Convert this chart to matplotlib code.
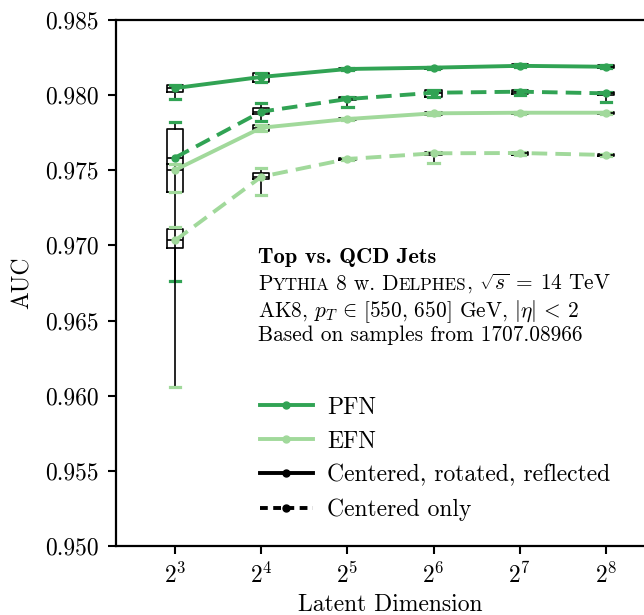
import matplotlib
matplotlib.use("Agg")
import matplotlib.pyplot as plt
from matplotlib.lines import Line2D
from matplotlib.font_manager import FontProperties

plt.rcParams['font.family'] = 'serif'
plt.rcParams['font.serif'] = ['cmr10']
plt.rcParams['mathtext.fontset'] = 'cm'
plt.rcParams['axes.unicode_minus'] = False
plt.rcParams['axes.formatter.use_mathtext'] = True

# ---------------- data ----------------
log2_dims = [3, 4, 5, 6, 7, 8]
x_ticklabels = ['$2^{3}$', '$2^{4}$', '$2^{5}$', '$2^{6}$', '$2^{7}$', '$2^{8}$']
y_ticks = [0.950, 0.955, 0.960, 0.965, 0.970, 0.975, 0.980, 0.985]

pfn_full_med = [0.98047, 0.98121, 0.98174, 0.98183, 0.98195, 0.98189]
pfn_full_q1 = [0.98019, 0.98090, 0.98165, 0.98175, 0.98185, 0.98180]
pfn_full_q3 = [0.98067, 0.98145, 0.98180, 0.98190, 0.98205, 0.98198]
pfn_full_lo = [0.97974, 0.98090, 0.98165, 0.98175, 0.98185, 0.98180]
pfn_full_hi = [0.98070, 0.98145, 0.98180, 0.98190, 0.98205, 0.98198]

pfn_cent_med = [0.97584, 0.97890, 0.97974, 0.98016, 0.98023, 0.98012]
pfn_cent_q1 = [0.97540, 0.97874, 0.97965, 0.97990, 0.98010, 0.98000]
pfn_cent_q3 = [0.97773, 0.97916, 0.97985, 0.98034, 0.98035, 0.98022]
pfn_cent_lo = [0.96765, 0.97828, 0.97923, 0.97990, 0.98000, 0.97956]
pfn_cent_hi = [0.97823, 0.97946, 0.97990, 0.98034, 0.98035, 0.98022]

efn_full_med = [0.97502, 0.97783, 0.97841, 0.97879, 0.97883, 0.97883]
efn_full_q1 = [0.97358, 0.97763, 0.97835, 0.97870, 0.97875, 0.97875]
efn_full_q3 = [0.97540, 0.97801, 0.97848, 0.97888, 0.97890, 0.97890]
efn_full_lo = [0.97358, 0.97763, 0.97835, 0.97870, 0.97875, 0.97875]
efn_full_hi = [0.97540, 0.97801, 0.97848, 0.97888, 0.97890, 0.97890]

efn_cent_med = [0.97033, 0.97457, 0.97575, 0.97613, 0.97615, 0.97602]
efn_cent_q1 = [0.96981, 0.97440, 0.97568, 0.97600, 0.97605, 0.97595]
efn_cent_q3 = [0.97107, 0.97484, 0.97582, 0.97625, 0.97625, 0.97610]
efn_cent_lo = [0.96056, 0.97335, 0.97568, 0.97546, 0.97605, 0.97595]
efn_cent_hi = [0.97125, 0.97513, 0.97582, 0.97625, 0.97625, 0.97610]

legend_labels = ['PFN', 'EFN', 'Centered, rotated, reflected', 'Centered only']

PFN_COLOR = '#31a354'
EFN_COLOR = '#a1d99b'
LW = 2.8
DASHES = (4.0, 2.1)

series = [
    (pfn_full_med, pfn_full_q1, pfn_full_q3, pfn_full_lo, pfn_full_hi, PFN_COLOR, '-'),
    (pfn_cent_med, pfn_cent_q1, pfn_cent_q3, pfn_cent_lo, pfn_cent_hi, PFN_COLOR, '--'),
    (efn_full_med, efn_full_q1, efn_full_q3, efn_full_lo, efn_full_hi, EFN_COLOR, '-'),
    (efn_cent_med, efn_cent_q1, efn_cent_q3, efn_cent_lo, efn_cent_hi, EFN_COLOR, '--'),
]

W, H = 644, 615
fig = plt.figure(figsize=(W / 100, H / 100), dpi=100)
ax = fig.add_axes([115.5 / W, 1 - 546 / H, 550 / W, 526 / H])

for med, q1, q3, lo, hi, color, ls in series:
    stats = [dict(med=m, q1=a, q3=b, whislo=l, whishi=h, fliers=[])
             for m, a, b, l, h in zip(med, q1, q3, lo, hi)]
    ax.bxp(stats, positions=log2_dims, widths=0.19, capwidths=0.12,
           showfliers=False, manage_ticks=False,
           boxprops=dict(color='black', linewidth=1.2),
           whiskerprops=dict(color='black', linewidth=1.2),
           capprops=dict(color=color, linewidth=2.3),
           medianprops=dict(color='black', linewidth=1.2))

for med, q1, q3, lo, hi, color, ls in series:
    line, = ax.plot(log2_dims, med, color=color, lw=LW, marker='o', ms=5,
                    zorder=5)
    if ls == '--':
        line.set_dashes(DASHES)

ax.set_xlim(2.308, 8.692)
ax.set_ylim(0.950, 0.985)
ax.set_xticks(log2_dims)
ax.set_xticklabels(x_ticklabels)
ax.set_yticks(y_ticks)
ax.set_yticklabels(['%.3f' % v for v in y_ticks])
ax.tick_params(direction='out', length=6, width=1.5, labelsize=17, pad=6)
for s in ax.spines.values():
    s.set_linewidth(1.6)
ax.set_xlabel('Latent Dimension', fontsize=17, labelpad=4)
ax.set_ylabel('AUC', fontsize=17, labelpad=8)

# legend
handles = [
    Line2D([], [], color=PFN_COLOR, lw=LW, marker='o', ms=5),
    Line2D([], [], color=EFN_COLOR, lw=LW, marker='o', ms=5),
    Line2D([], [], color='black', lw=LW, marker='o', ms=5),
    Line2D([], [], color='black', lw=LW, marker='o', ms=5, dashes=(2.0, 1.4)),
]
ax.legend(handles, legend_labels, loc='upper left', bbox_to_anchor=(0.245, 0.302),
          frameon=False, fontsize=17, handlelength=2.25, handletextpad=0.62,
          labelspacing=0.5, borderaxespad=0)

# text block, rows placed on explicit baselines (pixels from top)
small = 15.4
sc = 12.3
bold = FontProperties(family='cmb10', size=16.2)
x0 = 258
fig.canvas.draw()
renderer = fig.canvas.get_renderer()


def put_row(pieces, y_pix):
    x = x0
    for txt, kw in pieces:
        t = fig.text(x / W, 1 - y_pix / H, txt, va='baseline', ha='left', **kw)
        x += t.get_window_extent(renderer).width


put_row([('Top vs. QCD Jets', dict(fontproperties=bold))], 263)
put_row([('P', dict(fontsize=small)),
         ('YTHIA', dict(fontsize=sc)),
         (' 8 w. D', dict(fontsize=small)),
         ('ELPHES', dict(fontsize=sc)),
         (', $\\sqrt{s}\\:=\\:14$ TeV', dict(fontsize=small))], 290)
put_row([('AK8, $p_T\\,\\in\\,[550,\\,650]$ GeV, $|\\eta|\\,<\\,2$',
          dict(fontsize=small))], 317)
put_row([('Based on samples from 1707.08966', dict(fontsize=small))], 341)

fig.savefig('out.png', dpi=100)
